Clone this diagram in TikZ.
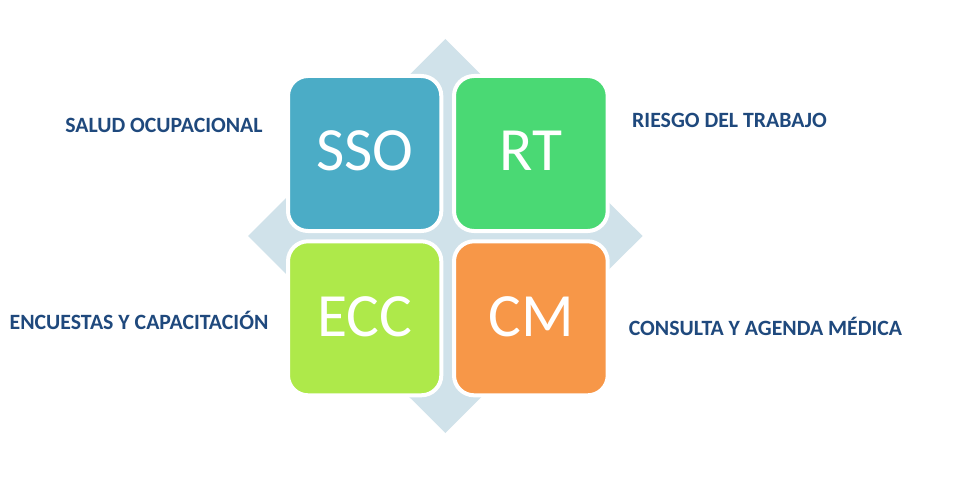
\documentclass[tikz,border=0pt]{standalone}
\usepackage{fontspec}
\setmainfont{Carlito}
\definecolor{diamondc}{RGB}{208,226,234}
\definecolor{ssoc}{RGB}{75,172,198}
\definecolor{rtc}{RGB}{74,217,116}
\definecolor{eccc}{RGB}{174,233,74}
\definecolor{cmc}{RGB}{247,151,72}
\definecolor{labelc}{RGB}{31,73,125}
\tikzset{
  tile/.style={draw=white, line width=4pt, rounded corners=20pt},
  bigtxt/.style={text=white, font=\fontsize{61.5}{61.5}\selectfont, anchor=base, inner sep=0pt},
  lbl/.style={text=labelc, font=\bfseries\fontsize{21.8}{21.8}\selectfont, anchor=base, inner sep=0pt}
}
\begin{document}
\begin{tikzpicture}[x=1pt,y=-1pt]
\useasboundingbox[fill=white] (0,0) rectangle (968,476);
% background diamond
\fill[diamondc] (445.3,39) -- (642.5,236) -- (445.3,433) -- (248,236) -- cycle;
% tiles
\filldraw[tile, fill=ssoc] (288,76) rectangle (441.3,231);
\filldraw[tile, fill=rtc] (454,76) rectangle (607.7,231);
\filldraw[tile, fill=eccc] (288,241.3) rectangle (441.3,395.3);
\filldraw[tile, fill=cmc] (454,241.3) rectangle (607.7,395.3);
% tile texts
\node[bigtxt] (sso) at (365,170) {SSO};
\node[bigtxt] (rt) at (531,170.5) {RT};
\node[bigtxt] (ecc) at (365,336.7) {ECC};
\node[bigtxt] (cm) at (531,336.7) {CM};
% labels
\node[lbl] (l1) at (164,132.3) {SALUD OCUPACIONAL};
\node[lbl] (l2) at (729.5,127.7) {RIESGO DEL TRABAJO};
\node[lbl] (l3) at (139,329.3) {ENCUESTAS Y CAPACITACIÓN};
\node[lbl] (l4) at (765.5,335) {CONSULTA Y AGENDA MÉDICA};
\end{tikzpicture}
\end{document}
